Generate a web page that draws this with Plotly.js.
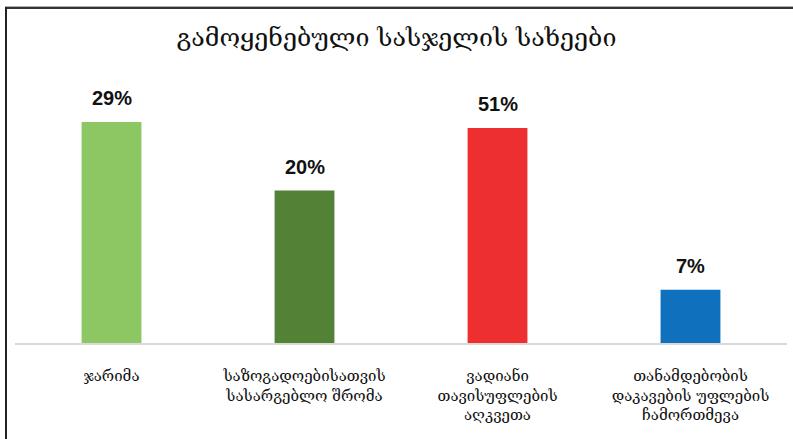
<!DOCTYPE html>
<html><head><meta charset="utf-8">
<script src="https://cdn.plot.ly/plotly-3.0.1.min.js"></script>
<style>
html,body{margin:0;padding:0;background:#fff;}
#wrap{position:relative;width:793px;height:439px;overflow:hidden;}
#chart{position:absolute;left:0;top:0;width:793px;height:439px;}
#topline{position:absolute;left:5px;top:6px;width:788px;height:1px;background:#b0b0b0;}
#topline2{position:absolute;left:5px;top:7px;width:788px;height:2px;background:#333;}
#leftline{position:absolute;left:5px;top:7px;width:2px;height:432px;background:#222;}
</style></head>
<body><div id="wrap"><div id="chart"></div><div id="topline"></div><div id="topline2"></div><div id="leftline"></div></div>
<script>
const categories = [
  "ჯარიმა",
  "საზოგადოებისათვის<br>სასარგებლო შრომა",
  "ვადიანი<br>თავისუფლების<br>აღკვეთა",
  "თანამდებობის<br>დაკავების უფლების<br>ჩამორთმევა"
];
const barHeights = [29, 20, 28.2, 7];
const valueLabels = ["29%", "20%", "51%", "7%"];
const barColors = ["#8CC763", "#538135", "#EE2F2F", "#0F70BE"];

const trace = {
  type: "bar",
  x: categories,
  y: barHeights,
  marker: {color: barColors, line: {width: 0}},
  hoverinfo: "none"
};

const annotations = categories.map((c, i) => ({
  x: c, y: barHeights[i], xref: "x", yref: "y",
  text: valueLabels[i], showarrow: false,
  yanchor: "bottom", yshift: 11,
  font: {family: "Liberation Sans Narrow, Arial Narrow, sans-serif", size: 20, color: "#111", weight: 700}
}));

const layout = {
  width: 793, height: 439,
  margin: {l: 15, r: 6, t: 80, b: 96},
  paper_bgcolor: "#fff", plot_bgcolor: "#fff",
  bargap: 0.69,
  showlegend: false,
  annotations: annotations,
  title: {text: "გამოყენებული სასჯელის სახეები", x: 0.5, xanchor: "center", y: 0.915, yanchor: "middle",
    font: {family: "DejaVu Serif, serif", size: 25, color: "#111"}},
  xaxis: {
    showgrid: false, zeroline: false, showline: true, linecolor: "#d9d9d9", linewidth: 2,
    ticks: "", ticklabelstandoff: 18,
    tickfont: {family: "DejaVu Serif, serif", size: 15, color: "#111"},
    automargin: false, tickangle: 0
  },
  yaxis: {
    range: [0, 34.5], visible: false, showgrid: false, zeroline: false, fixedrange: true
  }
};

Plotly.newPlot("chart", [trace], layout, {displayModeBar: false, staticPlot: true});
</script></body></html>
